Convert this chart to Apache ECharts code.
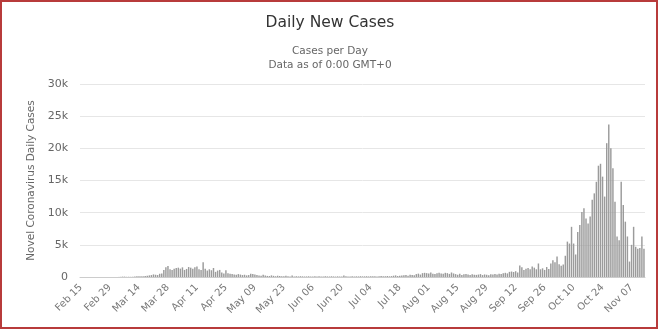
<!DOCTYPE html>
<html>
<head>
<meta charset="utf-8">
<script src="https://cdn.jsdelivr.net/npm/echarts@6/dist/echarts.min.js"></script>
<style>
  html, body { margin: 0; padding: 0; background: #fff; }
  #chart { width: 660px; height: 330px; }
</style>
</head>
<body>
<div id="chart"></div>
<script>
// Daily new cases, one value per day from Feb 15 to Nov 13
const feb = [0, 0, 0, 0, 0, 0, 0, 0, 0, 0, 0, 0, 0, 0, 0];
const mar = [1, 0, 6, 10, 27, 59, 60, 31, 39, 28, 47, 85, 120, 100, 130, 120,
  150, 180, 250, 300, 400, 350, 300, 500, 550, 1100, 1500, 1700, 1200, 1100, 1300];
const apr = [1400, 1450, 1300, 1500, 1100, 1250, 1550, 1450, 1300, 1500, 1650, 1200, 1100, 2300, 1300,
  1000, 1200, 1050, 1400, 800, 1000, 1100, 700, 550, 1050, 600, 500, 450, 400, 350];
const may = [450, 380, 300, 350, 250, 300, 500, 450, 380, 300, 250, 200, 350, 220, 170, 150,
  250, 180, 120, 200, 160, 100, 130, 200, 120, 90, 250, 80, 110, 90, 120];
const jun = [100, 80, 90, 110, 70, 90, 100, 80, 120, 90, 70, 100, 90, 80, 110,
  90, 70, 100, 80, 90, 250, 100, 80, 90, 110, 80, 100, 90, 120, 100];
const jul = [100, 120, 90, 110, 130, 100, 90, 120, 140, 110, 120, 150, 110, 140,
  200, 250, 150, 180, 230, 260, 300, 200, 350, 320, 280, 450, 520, 380, 600, 650, 600];
const aug = [550, 700, 520, 450, 600, 680, 550, 500, 650, 600, 480, 700, 550, 450, 350, 500,
  300, 420, 450, 380, 300, 420, 350, 330, 380, 450, 300, 400, 350, 280, 420];
const sep = [380, 450, 380, 520, 470, 600, 650, 560, 800, 850, 780, 900, 700, 1800, 1500,
  1100, 1300, 1400, 1200, 1650, 1450, 1200, 2100, 1200, 1350, 1100, 1550, 1250, 2100, 2600];
const oct = [2300, 3200, 2000, 1750, 1950, 3300, 5500, 5200, 7800, 5200, 3500, 7000, 8100, 10100, 10700, 9100,
  8300, 9400, 12000, 13000, 14800, 17300, 17600, 15600, 12500, 20800, 23700, 20000, 16900, 11700, 6300];
const nov = [5700, 14800, 11200, 8600, 6300, 2400, 5000, 7800, 4700, 4400, 4500, 6300, 4400];

const dailyCases = [].concat(feb, mar, apr, may, jun, jul, aug, sep, oct, nov);

// Labelled dates on the time axis (every two weeks)
const tickLabels = ['Feb 15', 'Feb 29', 'Mar 14', 'Mar 28', 'Apr 11', 'Apr 25', 'May 09', 'May 23',
  'Jun 06', 'Jun 20', 'Jul 04', 'Jul 18', 'Aug 01', 'Aug 15', 'Aug 29', 'Sep 12', 'Sep 26',
  'Oct 10', 'Oct 24', 'Nov 07'];

// Category names, one per day starting on Feb 15, 2020
const monthNames = ['Jan', 'Feb', 'Mar', 'Apr', 'May', 'Jun', 'Jul', 'Aug', 'Sep', 'Oct', 'Nov', 'Dec'];
const dates = dailyCases.map(function (_, i) {
  const d = new Date(Date.UTC(2020, 1, 15 + i));
  const day = d.getUTCDate();
  return monthNames[d.getUTCMonth()] + ' ' + (day < 10 ? '0' + day : day);
});

const FONT = 'DejaVu Sans';
const chart = echarts.init(document.getElementById('chart'), null, { renderer: 'canvas' });

chart.setOption({
  backgroundColor: '#ffffff',
  animation: false,
  title: [
    {
      text: 'Daily New Cases',
      left: 'center',
      top: 10,
      textStyle: { fontFamily: FONT, fontSize: 15.5, fontWeight: 'normal', color: '#333333' }
    },
    {
      text: 'Cases per Day\nData as of 0:00 GMT+0',
      left: 'center',
      top: 39,
      textStyle: { fontFamily: FONT, fontSize: 10.5, fontWeight: 'normal', color: '#666666', lineHeight: 14, align: 'center' }
    }
  ],
  grid: { left: 80, right: 15, top: 84, bottom: 53, containLabel: false },
  xAxis: {
    type: 'category',
    data: dates,
    boundaryGap: true,
    axisLine: { show: true, lineStyle: { color: '#cccccc', width: 1 } },
    axisTick: { show: false },
    axisLabel: {
      rotate: 45,
      interval: function (i, v) { return tickLabels.indexOf(v) !== -1; },
      fontFamily: FONT,
      fontSize: 10,
      color: '#777777',
      margin: 9
    },
    splitLine: { show: false }
  },
  yAxis: {
    type: 'value',
    min: 0,
    max: 30000,
    interval: 5000,
    name: 'Novel Coronavirus Daily Cases',
    nameLocation: 'middle',
    nameRotate: 90,
    nameGap: 43,
    nameTextStyle: { fontFamily: FONT, fontSize: 10.5, color: '#666666' },
    axisLine: { show: false },
    axisTick: { show: false },
    axisLabel: {
      fontFamily: FONT,
      fontSize: 11,
      color: '#666666',
      margin: 12,
      formatter: function (v) { return v === 0 ? '0' : (v / 1000) + 'k'; }
    },
    splitLine: { lineStyle: { color: '#e6e6e6', width: 1 } }
  },
  series: [
    {
      name: 'Daily Cases',
      type: 'bar',
      data: dailyCases,
      barCategoryGap: '30%',
      itemStyle: { color: '#9b9b9b' }
    }
  ],
  graphic: [
    {
      type: 'rect',
      shape: { x: 1, y: 1, width: 656, height: 327 },
      style: { fill: 'none', stroke: '#b83b3b', lineWidth: 2 },
      silent: true,
      z: 100
    }
  ]
});
</script>
</body>
</html>
